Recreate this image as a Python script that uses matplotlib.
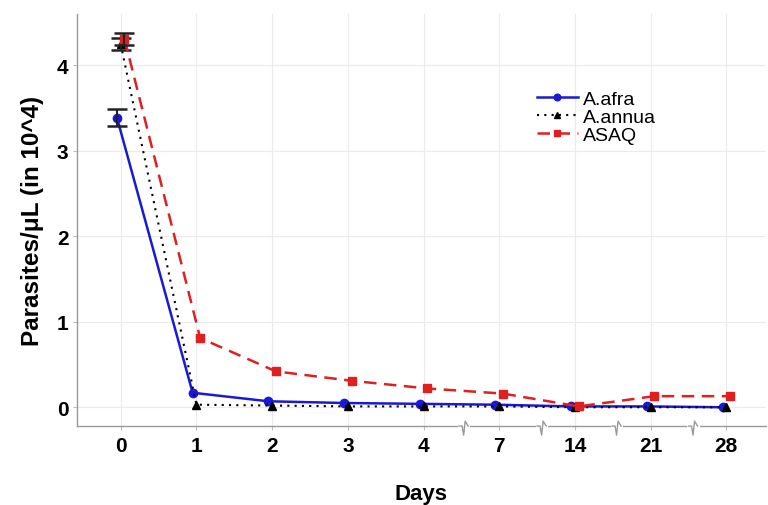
import matplotlib
matplotlib.use("Agg")
import matplotlib.pyplot as plt
import numpy as np

days = ["0", "1", "2", "3", "4", "7", "14", "21", "28"]
afra = [3.39, 0.17, 0.07, 0.05, 0.04, 0.03, 0.01, 0.01, 0.00]
afra_err = [0.10, 0.0, 0.0, 0.0, 0.0, 0.0, 0.0, 0.0, 0.0]
annua = [4.25, 0.03, 0.02, 0.01, 0.01, 0.01, 0.00, 0.00, 0.00]
annua_err = [0.07, 0.0, 0.0, 0.0, 0.0, 0.0, 0.0, 0.0, 0.0]
asaq = [4.31, 0.81, 0.42, 0.31, 0.22, 0.16, 0.01, 0.13, 0.13]
asaq_err = [0.07, 0.0, 0.0, 0.0, 0.0, 0.0, 0.0, 0.0, 0.0]
yticks = [0, 1, 2, 3, 4]

plt.rcParams['font.family'] = ['Liberation Sans', 'DejaVu Sans']

fig = plt.figure(figsize=(7.68, 5.06), dpi=100)
ax = fig.add_axes([0.100, 0.156, 0.897, 0.814])

x = np.arange(len(days))
dodge = 0.05

series = [
    (afra, afra_err, -dodge, '#1a1ad6', '-', 'o', 'A.afra', 1.8),
    (annua, annua_err, 0.0, 'black', (0, (1, 2.5)), '^', 'A.annua', 1.5),
    (asaq, asaq_err, dodge, '#e02020', (0, (5, 3)), 's', 'ASAQ', 1.8),
]
for i, (vals, errs, off, col, ls, mk, lab, lw) in enumerate(series):
    vals = np.array(vals)
    errs = np.array(errs)
    xs = x + off
    ax.plot(xs, vals, color=col, ls=ls, lw=lw, marker=mk, ms=6, label=lab, zorder=3 + i)
    sel = errs > 0
    ax.errorbar(xs[sel], vals[sel], yerr=errs[sel], fmt='none', ecolor='#222222',
                elinewidth=1.5, capsize=7, capthick=1.8, zorder=3 + i)

ax.set_xlim(-0.58, 8.52)
ax.set_ylim(-0.22, 4.6)
ax.set_xticks(x)
ax.set_xticklabels(days, fontsize=15, fontweight='bold')
ax.set_yticks(yticks)
ax.set_yticklabels([str(t) for t in yticks], fontsize=15, fontweight='bold')
ax.tick_params(axis='both', length=3, color='#bbbbbb', pad=4)
ax.tick_params(axis='y', pad=3)
ax.grid(True, color='#ebebeb', lw=0.8)
ax.set_axisbelow(True)
for s in ['top', 'right']:
    ax.spines[s].set_visible(False)
for s in ['left', 'bottom']:
    ax.spines[s].set_color('#999999')
    ax.spines[s].set_linewidth(1.0)

ax.set_xlabel('Days', fontsize=16, fontweight='bold', labelpad=20)
ax.set_ylabel('Parasites/μL (in 10^4)', fontsize=17.5, fontweight='bold', labelpad=9)

# axis-break zigzags on x-axis
trans = ax.get_xaxis_transform()
for bx in [4.53, 5.56, 6.55, 7.56]:
    zx = np.array([-0.06, -0.02, 0.0, 0.02, 0.06]) + bx
    zy = np.array([0.0, 0.0, -0.022, 0.012, 0.0])
    ax.plot([bx - 0.06, bx + 0.06], [0, 0], transform=trans, color='white', lw=2.2,
            clip_on=False, zorder=5.5)
    ax.plot(zx, zy, transform=trans, color='#999999', lw=1.0, clip_on=False, zorder=6)

leg = ax.legend(loc='upper left', bbox_to_anchor=(0.648, 0.848), frameon=False,
                fontsize=14, handlelength=2.1, handletextpad=0.25, labelspacing=0.02,
                borderpad=0.2, markerscale=0.8)

fig.savefig('out.png', dpi=100)
